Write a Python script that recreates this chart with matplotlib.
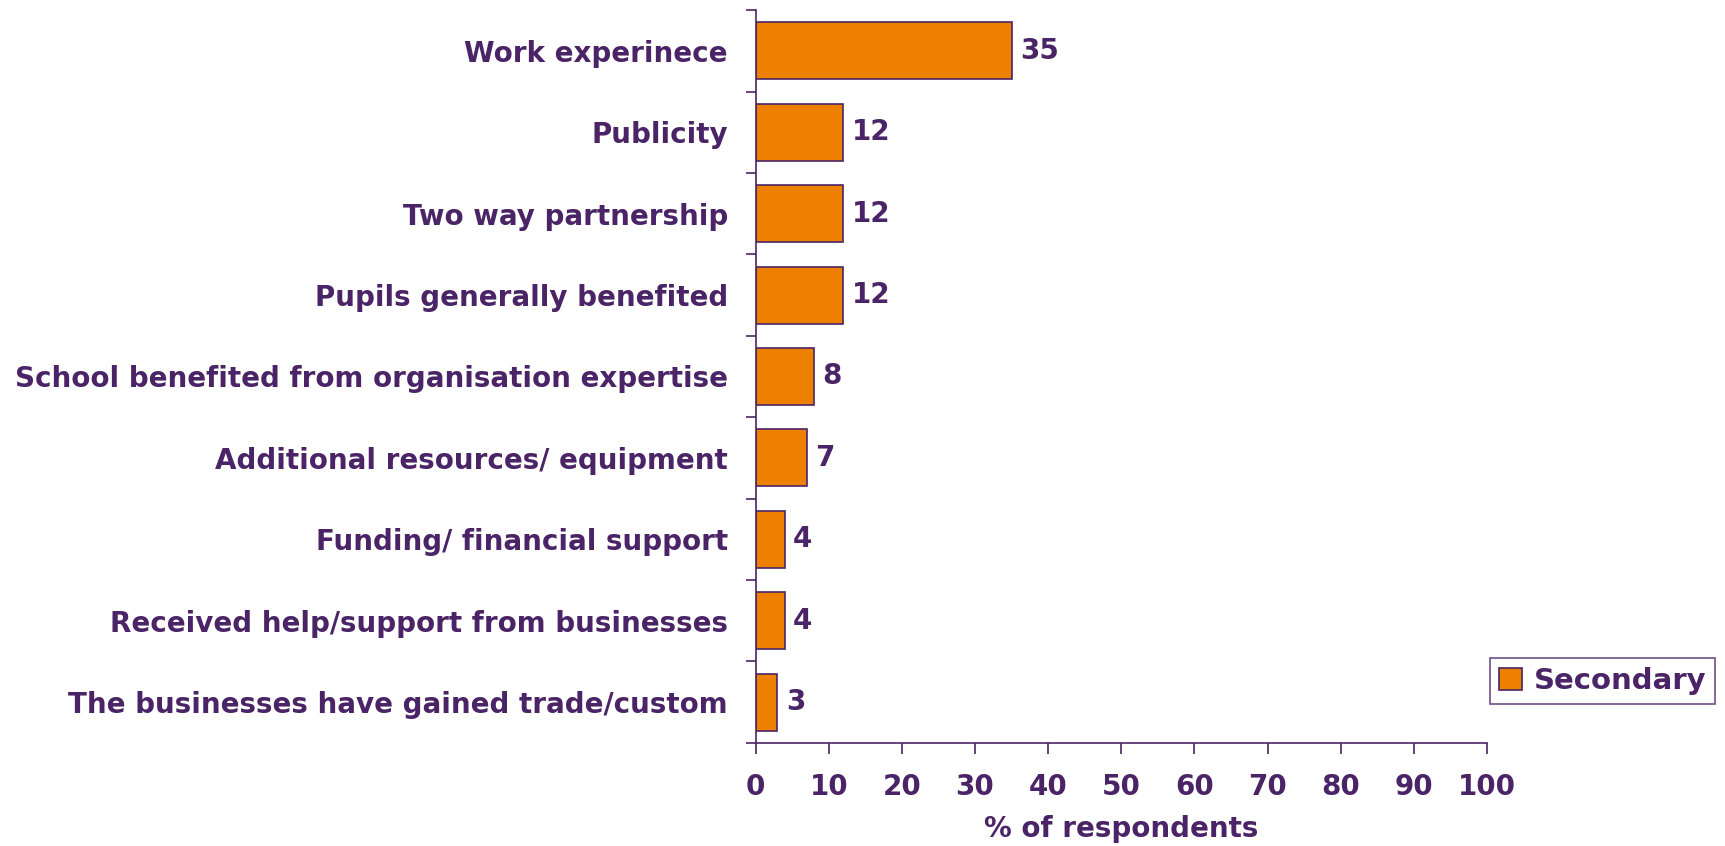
import matplotlib.pyplot as plt

# Reported benefits of the partnership, secondary schools
categories = ['Work experinece', 'Publicity', 'Two way partnership',
              'Pupils generally benefited',
              'School benefited from organisation expertise',
              'Additional resources/ equipment', 'Funding/ financial support',
              'Received help/support from businesses',
              'The businesses have gained trade/custom']
secondary = [35, 12, 12, 12, 8, 7, 4, 4, 3]
xticks = list(range(0, 101, 10))

purple = '#4A2466'
orange = '#EE8000'

plt.rcParams['font.family'] = 'DejaVu Sans'
plt.rcParams['font.weight'] = 'bold'
fs = 20

fig = plt.figure(figsize=(17.25, 8.46), dpi=100)
ax = fig.add_axes([0.438, 0.122, 0.424, 0.866])

pos = list(range(len(categories)))
bars = ax.barh(pos, secondary, height=0.7, color=orange, edgecolor=purple,
               linewidth=1.2, label='Secondary')
ax.set_ylim(len(categories) - 0.5, -0.5)
ax.set_xlim(0, 100)

# value labels at the end of each bar
for b, v in zip(bars, secondary):
    ax.annotate(str(v), (b.get_width(), b.get_y() + b.get_height() / 2),
                xytext=(6, 0), textcoords='offset points', va='center',
                ha='left', fontsize=fs, fontweight='bold', color=purple)

# category names centred on the bars, tick marks between categories
ax.set_yticks(pos)
ax.set_yticklabels(categories, fontsize=fs, fontweight='bold', color=purple)
ax.tick_params(axis='y', which='major', length=0, pad=20)
ax.set_yticks([p - 0.5 for p in range(len(categories) + 1)], minor=True)
ax.tick_params(axis='y', which='minor', length=7, width=1.2, color=purple)

ax.set_xticks(xticks)
ax.set_xticklabels([str(t) for t in xticks], fontsize=fs, fontweight='bold',
                   color=purple)
ax.tick_params(axis='x', length=8, width=1.2, color=purple, pad=14)
ax.set_xlabel('% of respondents', fontsize=fs, fontweight='bold',
              color=purple, labelpad=10)

for side in ['top', 'right']:
    ax.spines[side].set_visible(False)
for side in ['left', 'bottom']:
    ax.spines[side].set_color(purple)
    ax.spines[side].set_linewidth(1.2)

leg = ax.legend(loc='center left', bbox_to_anchor=(1.0, 0.084), fontsize=21,
                frameon=True, fancybox=False, handlelength=0.8,
                handleheight=0.8, handletextpad=0.4, borderpad=0.3,
                borderaxespad=0.1)
leg.get_frame().set_edgecolor(purple)
leg.get_frame().set_linewidth(1.2)
for t in leg.get_texts():
    t.set_color(purple)

fig.savefig('out.png', dpi=100)
